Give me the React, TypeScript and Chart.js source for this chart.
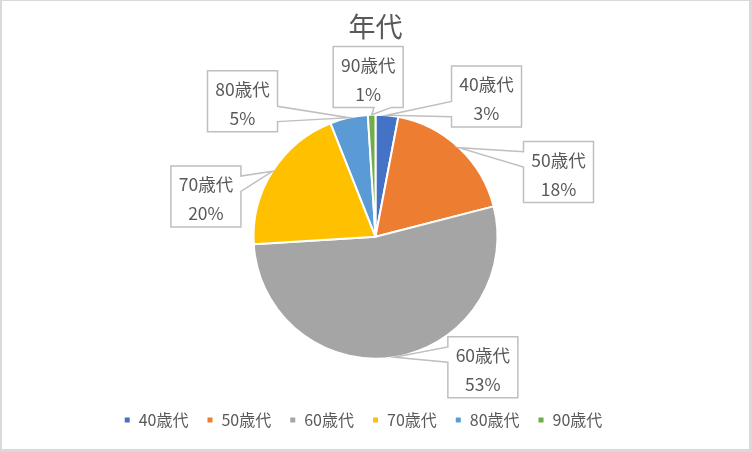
import { useEffect, useRef } from 'react';
import Chart from 'chart.js/auto';

const ageGroups = ['40歳代', '50歳代', '60歳代', '70歳代', '80歳代', '90歳代'];
const shares = [3, 18, 53, 20, 5, 1];
const sliceColors = ['#4472C4', '#ED7D31', '#A5A5A5', '#FFC000', '#5B9BD5', '#70AD47'];

// where each callout box sits, relative to the pie centre, in radii
const calloutOffsets = [
  [0.91, -1.15],
  [1.5, -0.53],
  [0.88, 1.07],
  [-1.39, -0.33],
  [-1.09, -1.11],
  [-0.06, -1.31],
];

const FONT = '"Noto Sans CJK JP", "Noto Sans", sans-serif';
const TEXT_COLOR = '#595959';

// Excel style wedge callout: rectangle with a pointer on the side facing the anchor
const drawCallout = (ctx: CanvasRenderingContext2D, l: number, t: number, w: number, h: number, ax: number, ay: number) => {
  const r = l + w;
  const b = t + h;
  const dxPos = ax - (l + w / 2);
  const dyPos = ay - (t + h / 2);
  const dq = (dxPos * h) / w;
  const horiz = Math.abs(dq) > Math.abs(dyPos);
  const x1 = l + (w * (dxPos > 0 ? 7 : 2)) / 12;
  const x2 = l + (w * (dxPos > 0 ? 10 : 5)) / 12;
  const y1 = t + (h * (dyPos > 0 ? 7 : 2)) / 12;
  const y2 = t + (h * (dyPos > 0 ? 10 : 5)) / 12;

  ctx.beginPath();
  ctx.moveTo(l, t);
  if (!horiz && dyPos < 0) {
    ctx.lineTo(x1, t);
    ctx.lineTo(ax, ay);
    ctx.lineTo(x2, t);
  }
  ctx.lineTo(r, t);
  if (horiz && dxPos > 0) {
    ctx.lineTo(r, y1);
    ctx.lineTo(ax, ay);
    ctx.lineTo(r, y2);
  }
  ctx.lineTo(r, b);
  if (!horiz && dyPos > 0) {
    ctx.lineTo(x2, b);
    ctx.lineTo(ax, ay);
    ctx.lineTo(x1, b);
  }
  ctx.lineTo(l, b);
  if (horiz && dxPos < 0) {
    ctx.lineTo(l, y2);
    ctx.lineTo(ax, ay);
    ctx.lineTo(l, y1);
  }
  ctx.closePath();
  ctx.fillStyle = '#ffffff';
  ctx.fill();
  ctx.strokeStyle = '#BFBFBF';
  ctx.lineWidth = 1.5;
  ctx.stroke();
};

const calloutPlugin = {
  id: 'callouts',
  afterDatasetsDraw(chart: any) {
    const ctx = chart.ctx as CanvasRenderingContext2D;
    const meta = chart.getDatasetMeta(0);
    const boxW = 70;
    const boxH = 61;
    ctx.save();
    meta.data.forEach((arc: any, i: number) => {
      const { x, y, startAngle, endAngle, outerRadius } = arc.getProps(
        ['x', 'y', 'startAngle', 'endAngle', 'outerRadius'],
        true
      );
      const mid = (startAngle + endAngle) / 2;
      const ax = x + Math.cos(mid) * outerRadius;
      const ay = y + Math.sin(mid) * outerRadius;
      const cx = x + calloutOffsets[i][0] * outerRadius;
      const cy = y + calloutOffsets[i][1] * outerRadius;
      drawCallout(ctx, cx - boxW / 2, cy - boxH / 2, boxW, boxH, ax, ay);

      ctx.fillStyle = TEXT_COLOR;
      ctx.font = `17.5px ${FONT}`;
      ctx.textAlign = 'center';
      ctx.textBaseline = 'middle';
      ctx.fillText(ageGroups[i], cx, cy - 12);
      ctx.fillText(`${shares[i]}%`, cx, cy + 17);
    });
    ctx.restore();
  },
};

// Excel puts the legend a little left of centre
const legendShift = {
  id: 'legendShift',
  afterUpdate(chart: any) {
    const lg = chart.legend;
    if (lg) {
      lg.left -= 12.5;
      lg.right -= 12.5;
    }
  },
};

const App = () => {
  const chartRef = useRef<HTMLCanvasElement | null>(null);
  const chartInstanceRef = useRef<Chart | null>(null);

  useEffect(() => {
    const ctx = chartRef.current?.getContext('2d');
    if (!ctx) return;

    if (chartInstanceRef.current) {
      chartInstanceRef.current.destroy();
    }

    chartInstanceRef.current = new Chart(ctx, {
      type: 'pie',
      data: {
        labels: ageGroups,
        datasets: [
          {
            data: shares,
            backgroundColor: sliceColors,
            borderColor: '#ffffff',
            borderWidth: 2,
            radius: 122,
          } as any,
        ],
      },
      options: {
        responsive: true,
        maintainAspectRatio: false,
        animation: false,
        layout: {
          padding: { top: 0, bottom: 11 },
        },
        plugins: {
          title: {
            display: true,
            text: '年代',
            color: TEXT_COLOR,
            font: { family: FONT, size: 27, weight: 'normal' },
            padding: { top: 10, bottom: 36 },
          },
          legend: {
            display: true,
            position: 'bottom',
            labels: {
              boxWidth: 7,
              boxHeight: 7,
              padding: 18,
              color: TEXT_COLOR,
              font: { family: FONT, size: 16 },
            },
          },
          tooltip: { enabled: false },
        },
      },
      plugins: [calloutPlugin, legendShift],
    });

    return () => {
      if (chartInstanceRef.current) {
        chartInstanceRef.current.destroy();
        chartInstanceRef.current = null;
      }
    };
  }, []);

  return (
    <div
      style={{
        position: 'fixed',
        top: 0,
        left: 0,
        width: 752,
        height: 452,
        boxSizing: 'border-box',
        borderTop: '1px solid #D9D9D9',
        borderLeft: '2px solid #D9D9D9',
        borderRight: '3px solid #D9D9D9',
        borderBottom: '3px solid #D9D9D9',
        background: '#ffffff',
      }}
    >
      <canvas ref={chartRef} style={{ width: '100%', height: '100%' }}></canvas>
    </div>
  );
};

export default App;
